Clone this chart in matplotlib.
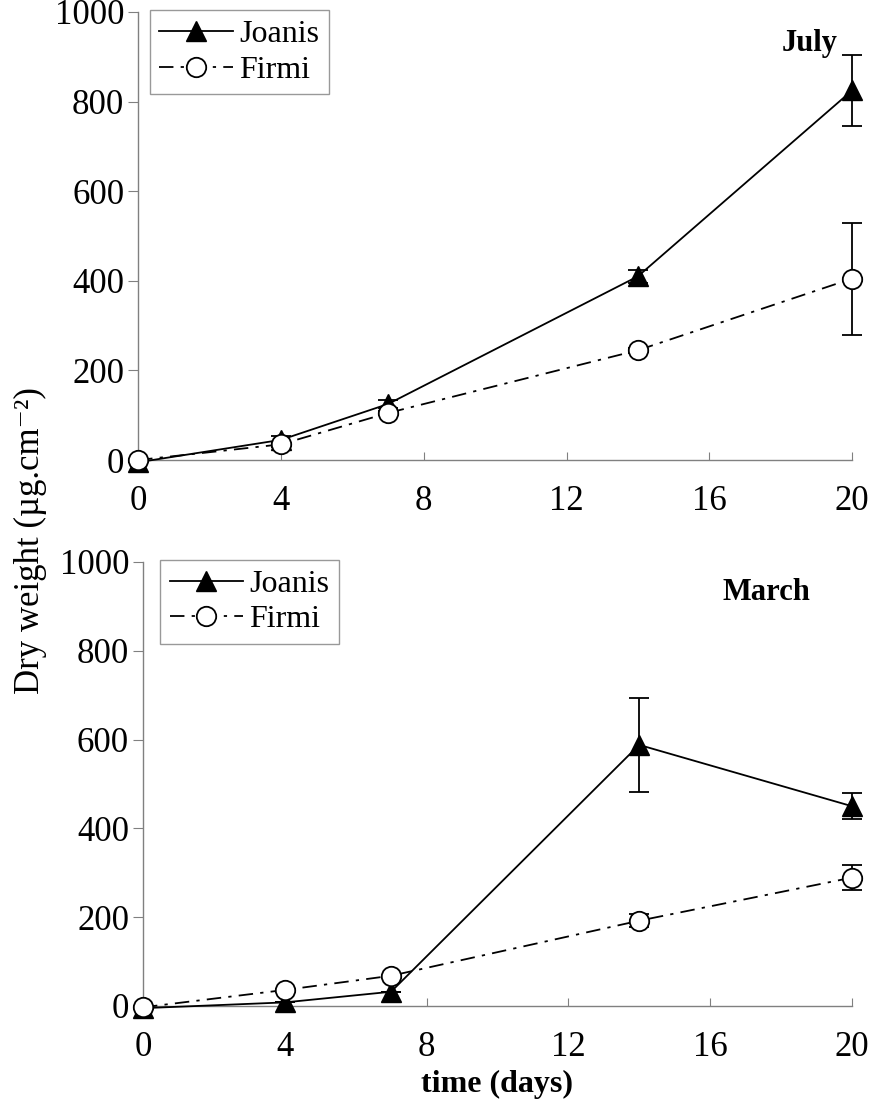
import matplotlib.pyplot as plt

plt.rcParams['font.family'] = ['Liberation Serif', 'DejaVu Serif']

# dados
days = [0, 4, 7, 14, 20]

july_joanis = [-5, 45, 125, 410, 825]
july_joanis_err = [0, 8, 8, 15, 80]
july_firmi = [0, 35, 105, 245, 405]
july_firmi_err = [0, 5, 5, 5, 125]

march_joanis = [-5, 8, 32, 588, 450]
march_joanis_err = [0, 0, 0, 105, 30]
march_firmi = [-3, 36, 68, 192, 289]
march_firmi_err = [0, 0, 0, 15, 28]

xticks = [0, 4, 8, 12, 16, 20]
yticks = [0, 200, 400, 600, 800, 1000]

grey = '#808080'

fig = plt.figure(figsize=(8.74, 11.08), dpi=100)
ax_top = fig.add_axes([0.158, 0.5848, 0.817, 0.4044])
ax_bot = fig.add_axes([0.1636, 0.0921, 0.811, 0.4007])


def painel(ax, joanis, joanis_err, firmi, firmi_err, titulo, tx, ty, anchor):
    cj = ax.errorbar(days, joanis, yerr=joanis_err, color='black', lw=1.3,
                     marker='^', ms=15, mfc='black', mec='black',
                     ecolor='black', elinewidth=1.3, capsize=7, capthick=1.3,
                     clip_on=False, zorder=3)
    cf = ax.errorbar(days, firmi, yerr=firmi_err, color='black', lw=1.3,
                     dashes=(8, 4, 1.8, 4),
                     marker='o', ms=14, mfc='white', mec='black', mew=1.3,
                     ecolor='black', elinewidth=1.3, capsize=7, capthick=1.3,
                     clip_on=False, zorder=4)
    ax.set_xlim(0, 20)
    ax.set_ylim(0, 1000)
    ax.set_xticks(xticks)
    ax.set_yticks(yticks)
    ax.spines['top'].set_visible(False)
    ax.spines['right'].set_visible(False)
    for s in ('left', 'bottom'):
        ax.spines[s].set_color(grey)
        ax.spines[s].set_linewidth(1.0)
    ax.tick_params(axis='y', direction='out', length=7, color=grey,
                   labelsize=25, pad=3)
    ax.tick_params(axis='x', direction='in', length=6, color=grey,
                   labelsize=25, pad=18)
    ax.text(tx, ty, titulo, transform=ax.transAxes, fontsize=22,
            fontweight='bold', ha='center', va='center')
    leg = ax.legend([cj.lines[0], cf.lines[0]], ['Joanis', 'Firmi'],
                    loc='upper left', bbox_to_anchor=anchor,
                    fontsize=23, frameon=True, fancybox=False,
                    handlelength=2.3, handletextpad=0.2, borderpad=0.3,
                    labelspacing=0.2, borderaxespad=0.0)
    leg.get_frame().set_edgecolor(grey)
    leg.get_frame().set_linewidth(1.0)


painel(ax_top, july_joanis, july_joanis_err, july_firmi, july_firmi_err,
       'July', 0.94, 0.93, (0.016, 1.004))
painel(ax_bot, march_joanis, march_joanis_err, march_firmi, march_firmi_err,
       'March', 0.88, 0.932, (0.024, 1.005))

fig.text(0.035, 0.512, 'Dry weight (µg.cm⁻²)',
         rotation=90, fontsize=25, ha='center', va='center')
fig.text(0.569, 0.0217, 'time (days)', fontsize=23, fontweight='bold',
         ha='center', va='center')

fig.savefig('out.png', dpi=100)
